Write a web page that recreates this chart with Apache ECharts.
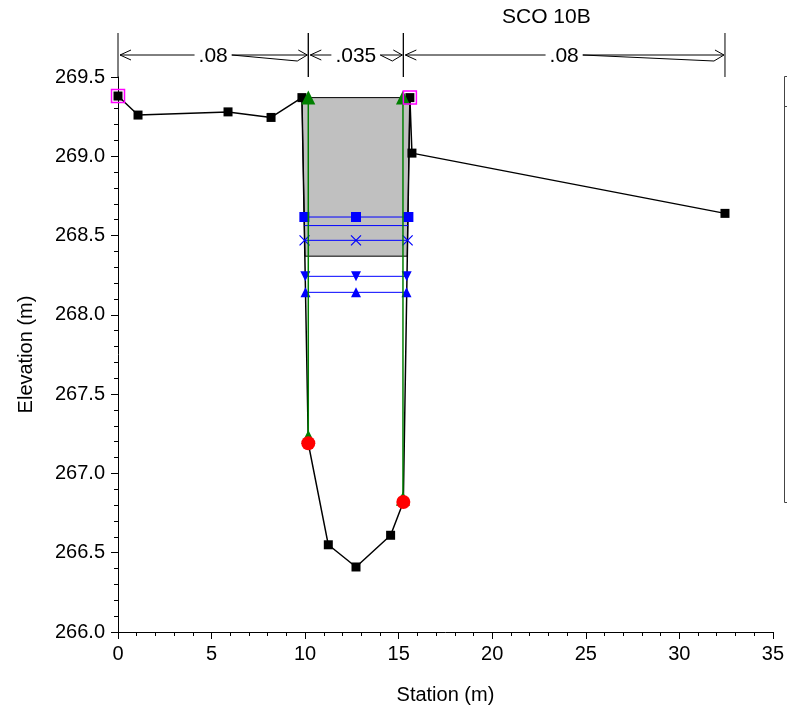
<!DOCTYPE html>
<html><head><meta charset="utf-8">
<script src="https://cdn.jsdelivr.net/npm/echarts@6/dist/echarts.min.js"></script>
<style>html,body{margin:0;padding:0;background:#fff}#c{width:787px;height:713px}</style>
</head><body><div id="c"></div>
<script>
// ---- data ----
const groundStation = [0, 1.07, 5.88, 8.18, 9.83, 10.17, 11.24, 12.72, 14.57, 15.25, 15.6, 15.71, 32.44];
const groundElev    = [269.38, 269.26, 269.28, 269.245, 269.37, 267.19, 266.55, 266.41, 266.61, 266.82, 269.37, 269.02, 268.64];

const bankStation = [10.17, 15.25];
const bankElev    = [267.19, 266.82];

const leveeStation = [0, 15.6];
const leveeElev    = [269.38, 269.37];

const ineffStation = [10.17, 15.23];
const ineffTop     = [269.37, 269.37];
const ineffBottom  = [267.23, 266.84];

const deckStation = [9.83, 15.6, 15.46, 9.99];
const deckElev    = [269.37, 269.37, 268.37, 268.37];

const wsElev   = [268.617, 268.563, 268.47, 268.243, 268.142];
const wsLeft   = [9.96, 9.96, 9.97, 10.01, 10.02];
const wsMid    = [12.72, 12.72, 12.72, 12.72, 12.72];
const wsRight  = [15.52, 15.51, 15.48, 15.43, 15.42];
const wsMarker = ['rect', 'none', 'cross', 'down', 'up'];

const nStations = [0, 10.17, 15.25, 32.44];
const nValues   = ['.08', '.035', '.08'];

const title = 'SCO 10B';
const xTitle = 'Station (m)';
const yTitle = 'Elevation (m)';

// ---- chart ----
const FONT = '"Liberation Sans", Arial, Helvetica, sans-serif';
const BLUE = '#0000ff', GREEN = '#008000';
const zip = (a, b) => a.map((v, i) => [v, b[i]]);
const chart = echarts.init(document.getElementById('c'), null, {renderer: 'canvas'});

function textWidth(s, size) {
  let w = 0;
  for (const ch of s) w += (ch === '.' ? 0.278 : 0.556);
  return w * size;
}

const markerDefs = {
  rect:  {symbol: 'rect', size: 10, rotate: 0},
  none:  {symbol: 'none', size: 0, rotate: 0},
  cross: {symbol: 'path://M0,0L10,10M10,0L0,10', size: 10, rotate: 0},
  down:  {symbol: 'triangle', size: 10, rotate: 180},
  up:    {symbol: 'triangle', size: 10, rotate: 0}
};

const series = [];

// bridge deck
series.push({
  type: 'custom', z: 1, silent: true, clip: false,
  data: [[deckStation[0], deckElev[0]]],
  renderItem: function (params, api) {
    const pts = deckStation.map((s, i) => api.coord([s, deckElev[i]]));
    return {type: 'polygon', shape: {points: pts}, style: {fill: '#c0c0c0', stroke: '#000', lineWidth: 1}};
  }
});

// ground
series.push({
  type: 'line', z: 3, silent: true,
  data: groundStation.map((s, i) => {
    const item = {value: [s, groundElev[i]]};
    if (bankStation.indexOf(s) >= 0) item.symbol = 'none';
    return item;
  }),
  symbol: 'rect', symbolSize: 9,
  lineStyle: {color: '#000', width: 1.5},
  itemStyle: {color: '#000'}
});

// water surfaces
wsElev.forEach((e, i) => {
  const m = markerDefs[wsMarker[i]];
  series.push({
    type: 'line', z: 4, silent: true,
    data: [[wsLeft[i], e], [wsMid[i], e], [wsRight[i], e]],
    symbol: m.symbol, symbolSize: m.size, symbolRotate: m.rotate,
    showSymbol: m.symbol !== 'none',
    lineStyle: {color: BLUE, width: 1},
    itemStyle: {color: BLUE, borderColor: BLUE, borderWidth: wsMarker[i] === 'cross' ? 1.2 : 0}
  });
});

// ineffective / green lines
ineffStation.forEach((s, i) => {
  series.push({
    type: 'line', z: 5, silent: true,
    data: [[s, ineffTop[i]], [s, ineffBottom[i]]],
    symbol: 'triangle', symbolSize: 14,
    lineStyle: {color: GREEN, width: 1.5},
    itemStyle: {color: GREEN}
  });
});

// bank stations
series.push({
  type: 'scatter', z: 6, silent: true,
  data: zip(bankStation, bankElev),
  symbol: 'circle', symbolSize: 14,
  itemStyle: {color: '#ff0000', opacity: 1}
});

// levees (open magenta squares)
series.push({
  type: 'scatter', z: 7, silent: true,
  data: zip(leveeStation, leveeElev),
  symbol: 'rect', symbolSize: 13,
  itemStyle: {color: 'rgba(0,0,0,0)', borderColor: '#ff00ff', borderWidth: 1.5, opacity: 1}
});

// Manning's n brackets
series.push({
  type: 'custom', z: 8, silent: true, clip: false,
  data: nValues.map((v, i) => [nStations[i], nStations[i + 1]]),
  renderItem: function (params, api) {
    const i = params.dataIndex;
    const yAx = api.coord([0, 269.5])[1];
    const x0 = api.coord([api.value(0), 269.5])[0];
    const x1 = api.coord([api.value(1), 269.5])[0];
    const yT = yAx - 44, yB = yAx, ay = yAx - 22;
    const cx = (x0 + x1) / 2;
    const fs = 21;
    const hw = textWidth(nValues[i], fs) / 2 + 4;
    const ls = {stroke: '#000', lineWidth: 1, fill: null};
    const L = (a, b, c, d) => ({type: 'line', shape: {x1: a, y1: b, x2: c, y2: d}, style: ls});
    const tipL = x0 + 2, tipR = x1 - 1;
    return {
      type: 'group',
      children: [
        L(x0, yT, x0, yB),
        L(x1, yT, x1, yB),
        L(tipL, ay, cx - hw, ay),
        L(tipL, ay, tipL + 11, ay - 5),
        L(tipL, ay, tipL + 11, ay + 5),
        L(cx + hw, ay, tipR, ay),
        L(tipR - 9, ay - 5, tipR, ay),
        {type: 'polyline', shape: {points: [[cx + hw, ay], [tipR - 10, ay + 6], [tipR, ay]]}, style: ls},
        {type: 'text', x: cx, y: ay + 1, style: {text: nValues[i], fill: '#000', font: fs + 'px ' + FONT, align: 'center', verticalAlign: 'middle'}}
      ]
    };
  }
});

const axisCommon = {
  axisLine: {show: true, onZero: false, lineStyle: {color: '#000', width: 1}},
  axisTick: {show: true, inside: false, length: 7, lineStyle: {color: '#000', width: 1}},
  minorTick: {show: true, splitNumber: 5, length: 4, lineStyle: {color: '#000', width: 1}},
  splitLine: {show: false},
  minorSplitLine: {show: false}
};

chart.setOption({
  animation: false,
  backgroundColor: '#fff',
  grid: {left: 118, right: 14, top: 77, bottom: 81, containLabel: false},
  xAxis: Object.assign({
    type: 'value', min: 0, max: 35, interval: 5,
    name: xTitle, nameLocation: 'middle', nameGap: 53,
    nameTextStyle: {fontFamily: FONT, fontSize: 20, color: '#000'},
    axisLabel: {fontFamily: FONT, fontSize: 20, color: '#000', margin: 12}
  }, axisCommon),
  yAxis: Object.assign({
    type: 'value', min: 266, max: 269.5, interval: 0.5,
    name: yTitle, nameLocation: 'middle', nameGap: 82, nameRotate: 90,
    nameTextStyle: {fontFamily: FONT, fontSize: 20, color: '#000'},
    axisLabel: {fontFamily: FONT, fontSize: 20, color: '#000', margin: 13,
      formatter: v => v.toFixed(1)}
  }, axisCommon),
  graphic: [
    {type: 'text', left: 502, top: 7, style: {text: title, font: '21px ' + FONT, fill: '#000'}},
    {type: 'rect', shape: {x: 784.5, y: 76.5, width: 30, height: 426}, style: {fill: null, stroke: '#444', lineWidth: 1}},
    {type: 'line', shape: {x1: 784.5, y1: 106.5, x2: 788, y2: 106.5}, style: {stroke: '#444', lineWidth: 1}}
  ],
  series: series
});
</script>
</body></html>
